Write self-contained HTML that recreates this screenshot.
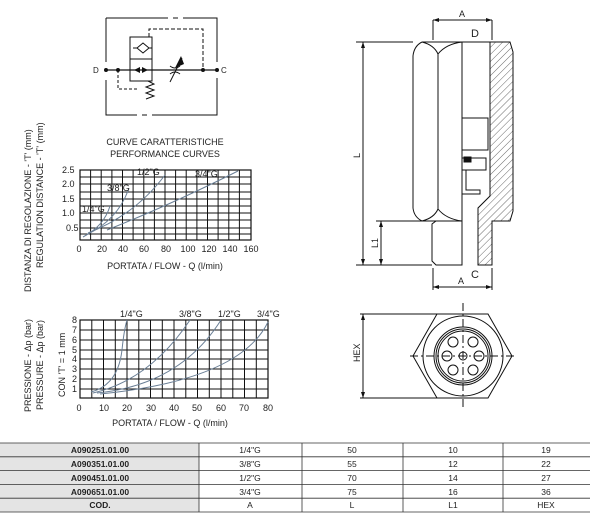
<!DOCTYPE html>
<html><head><meta charset="utf-8"><style>
html,body{margin:0;padding:0;background:#fff;width:608px;height:518px;overflow:hidden}
svg{display:block}
text{font-family:"Liberation Sans",sans-serif;fill:#222}
</style></head><body>
<svg width="608" height="518" viewBox="0 0 608 518">
<defs>
<pattern id="h" width="5" height="5" patternUnits="userSpaceOnUse" patternTransform="rotate(45)">
<line x1="0" y1="0" x2="0" y2="5" stroke="#444" stroke-width="0.8"/></pattern>
</defs>
<!-- schematic -->
<g stroke="#111" stroke-width="1" fill="none">
<path d="M106 18 H168 M173 18 H178 M183 18 H217 V62 M217 78 V115 H152 M147 115 H142 M137 115 H106 V80 M106 62 V18"/>
<path d="M106 70 H217" stroke-width="1.2"/>
<rect x="130" y="37" width="22" height="44"/>
<line x1="130" y1="59" x2="152" y2="59"/>
<path d="M149 48 L143 43 L137 48 L143 53 Z"/>
<line x1="133" y1="48" x2="137" y2="48"/>
<path d="M149 48 H152"/>
<path d="M118 70 V89 H138" stroke-dasharray="3,2"/>
<path d="M148 81 l6 3 l-8 3 l8 3 l-8 3 l8 3 l-8 3"/>
<path d="M149 37 V29 H203 V70" stroke-dasharray="4,2"/>
<path d="M170 82 L182 58" />
</g>
<path d="M134 70 l6 -3 v6z M148 70 l-6 -3 v6z M175 68 l6 -12 l3 8z" fill="#111"/>
<path d="M170 66 q5 4 10 0 M170 74 q5 -4 10 0" stroke="#111" fill="none"/>
<g fill="#111"><circle cx="106" cy="70" r="2"/><circle cx="118" cy="70" r="2"/><circle cx="203" cy="70" r="2"/><circle cx="217" cy="70" r="2"/></g>
<text x="93" y="73" font-size="8">D</text><text x="221" y="73" font-size="8">C</text>

<!-- chart titles -->
<text x="165" y="145" font-size="9" text-anchor="middle">CURVE CARATTERISTICHE</text>
<text x="165" y="157" font-size="9" text-anchor="middle">PERFORMANCE CURVES</text>
<g font-size="9" transform="translate(31,292) rotate(-90)"><text>DISTANZA DI REGOLAZIONE - 'T' (mm)</text></g>
<g font-size="9" transform="translate(43,268) rotate(-90)"><text>REGULATION DISTANCE - 'T' (mm)</text></g>

<!-- top chart grid -->
<g stroke="#111" stroke-width="1">
<rect x="80" y="170" width="171" height="70" fill="none" stroke-width="1.2"/>
<path d="M90.6 170V240M101.2 170V240M111.9 170V240M122.5 170V240M133.1 170V240M143.8 170V240M154.4 170V240M165 170V240M175.6 170V240M186.2 170V240M196.9 170V240M207.5 170V240M218.1 170V240M228.8 170V240M239.4 170V240"/>
<path d="M80 177H251M80 184H251M80 192H251M80 199H251M80 206H251M80 213H251M80 220H251M80 228H251M80 234H251"/>
</g>
<g stroke="#6a7f96" stroke-width="1" fill="none">
<path d="M107 230 Q170 205 238 171"/>
<path d="M88 233 Q135 215 165 175"/>
<path d="M86 235 Q118 220 129 188"/>
<path d="M83 237 Q104 226 110 206"/>
</g>
<g font-size="9">
<text x="62" y="173">2.5</text><text x="62" y="187">2.0</text><text x="62" y="202">1.5</text><text x="62" y="216">1.0</text><text x="66" y="231">0.5</text>
<g text-anchor="middle"><text x="79" y="252">0</text><text x="102" y="252">20</text><text x="123" y="252">40</text><text x="144" y="252">60</text><text x="166" y="252">80</text><text x="188" y="252">100</text><text x="209" y="252">120</text><text x="230" y="252">140</text><text x="251" y="252">160</text></g>
<text x="165" y="269" text-anchor="middle">PORTATA / FLOW - Q (l/min)</text>
<text x="137" y="175">1/2"G</text><text x="195" y="177">3/4"G</text><text x="107" y="191">3/8"G</text><text x="82" y="212">1/4"G</text>
</g>

<!-- bottom chart -->
<g font-size="9" transform="translate(31,412) rotate(-90)"><text>PRESSIONE - Δp (bar)</text></g>
<g font-size="9" transform="translate(43,410) rotate(-90)"><text>PRESSURE - Δp (bar)</text></g>
<g font-size="9" transform="translate(65,397) rotate(-90)"><text>CON 'T' = 1 mm</text></g>
<g stroke="#111" stroke-width="1">
<rect x="80" y="320" width="188" height="78" fill="none" stroke-width="1.2"/>
<path d="M91.8 320V398M103.5 320V398M115.3 320V398M127 320V398M138.8 320V398M150.5 320V398M162.3 320V398M174 320V398M185.8 320V398M197.5 320V398M209.3 320V398M221 320V398M232.8 320V398M244.5 320V398M256.3 320V398"/>
<path d="M80 330H268M80 340H268M80 350H268M80 359H268M80 369H268M80 379H268M80 389H268"/>
</g>
<g stroke="#6a7f96" stroke-width="1" fill="none">
<path d="M91 392 Q118 385 122 350 Q124 330 127 320"/>
<path d="M93 393 Q150 380 190 320"/>
<path d="M97 393 Q180 385 221 320"/>
<path d="M100 394 Q240 380 268 322"/>
</g>
<g font-size="9">
<g text-anchor="end"><text x="77" y="323">8</text><text x="77" y="333">7</text><text x="77" y="343">6</text><text x="77" y="353">5</text><text x="77" y="362">4</text><text x="77" y="372">3</text><text x="77" y="382">2</text><text x="77" y="392">1</text></g>
<g text-anchor="middle"><text x="79" y="411">0</text><text x="104" y="411">10</text><text x="127" y="411">20</text><text x="151" y="411">30</text><text x="174" y="411">40</text><text x="197" y="411">50</text><text x="221" y="411">60</text><text x="244" y="411">70</text><text x="268" y="411">80</text></g>
<text x="170" y="426" text-anchor="middle">PORTATA / FLOW - Q (l/min)</text>
<text x="120" y="317">1/4"G</text><text x="179" y="317">3/8"G</text><text x="218" y="317">1/2"G</text><text x="257" y="317">3/4"G</text>
</g>

<!-- side view -->
<g stroke="#111" stroke-width="1" fill="none">
<path d="M490 42 H510 L513 52 V211 L510 221 H492 V265 H478 V208 L490 196 Z" fill="url(#h)"/>
<path d="M462 42 H490 M462 42 V265 H436 L432 261 V224 L436 221 H462"/>
<path d="M422 42 H462 M413 56 Q414 46 422 42 M413 56 V208 Q414 217 422 221 H462"/>
<path d="M438 54 V209 M422 42 Q434 45 438 54 M422 221 Q434 218 438 209"/>
<path d="M438 54 Q446 44 462 42 M438 209 Q446 219 462 221"/>
<path d="M462 118 H488 V150 H462 M462 158 H486 V170 H462 M466 170 V190 H480 V194 H462"/>
<rect x="464" y="157" width="7" height="5" fill="#111"/>
<path d="M433 20 V40 M492 20 V40 M433 268 V290 M492 268 V290"/>
<path d="M433 20 H492 M433 287 H492 M363 42 V265 M381 221 V265 M356 42 H413 M356 265 H432 M376 221 H432"/>
</g>
<g fill="#111">
<path d="M433 20 l6 -2 v4z M492 20 l-6 -2 v4z M433 287 l6 -2 v4z M492 287 l-6 -2 v4z M363 42 l-2 6 h4z M363 265 l-2 -6 h4z M381 221 l-2 6 h4z M381 265 l-2 -6 h4z"/>
</g>
<g font-size="9"><text x="459" y="17">A</text><text x="458" y="284">A</text></g>
<g font-size="11"><text x="471" y="37">D</text><text x="471" y="278">C</text></g>
<text font-size="9" transform="translate(360,158) rotate(-90)">L</text>
<text font-size="9" transform="translate(378,248) rotate(-90)">L1</text>

<!-- end view -->
<g stroke="#111" stroke-width="1" fill="none">
<path d="M437 314 H488 L512 356 L488 398 H437 L413 356 Z"/>
<circle cx="463" cy="356" r="40"/>
<circle cx="463" cy="356" r="29"/><circle cx="463" cy="356" r="27"/><circle cx="463" cy="356" r="25"/>
<circle cx="463" cy="356" r="4"/>
<circle cx="453" cy="342" r="5"/><circle cx="473" cy="342" r="5"/><circle cx="447" cy="356" r="5"/><circle cx="479" cy="356" r="5"/><circle cx="453" cy="370" r="5"/><circle cx="473" cy="370" r="5"/>
<path d="M463 303 V409 M410 356 H516" stroke-dasharray="8,3,2,3"/>
<path d="M360 314 H437 M360 398 H437 M363 314 V398"/>
</g>
<path d="M363 314 l-2 6 h4z M363 398 l-2 -6 h4z" fill="#111"/>
<text font-size="9" transform="translate(360,362) rotate(-90)">HEX</text>

<!-- table -->
<g>
<rect x="0" y="443" width="199" height="69" fill="#e4e4e4"/>
<g stroke="#333" stroke-width="0.8">
<path d="M0 443 H590 M0 456.8 H590 M0 470.6 H590 M0 484.4 H590 M0 498.2 H590 M0 512 H590"/>
<path d="M199 443 V512 M302 443 V512 M403 443 V512 M503 443 V512"/>
</g>
<g font-size="8.5" text-anchor="middle" font-weight="bold">
<text x="100" y="453">A090251.01.00</text><text x="100" y="467">A090351.01.00</text><text x="100" y="481">A090451.01.00</text><text x="100" y="495">A090651.01.00</text><text x="100" y="508">COD.</text>
</g>
<g font-size="8.5" text-anchor="middle">
<text x="250" y="453">1/4"G</text><text x="352" y="453">50</text><text x="453" y="453">10</text><text x="546" y="453">19</text>
<text x="250" y="467">3/8"G</text><text x="352" y="467">55</text><text x="453" y="467">12</text><text x="546" y="467">22</text>
<text x="250" y="481">1/2"G</text><text x="352" y="481">70</text><text x="453" y="481">14</text><text x="546" y="481">27</text>
<text x="250" y="495">3/4"G</text><text x="352" y="495">75</text><text x="453" y="495">16</text><text x="546" y="495">36</text>
<text x="250" y="508">A</text><text x="352" y="508">L</text><text x="453" y="508">L1</text><text x="546" y="508">HEX</text>
</g>
</g>
</svg>
</body></html>
